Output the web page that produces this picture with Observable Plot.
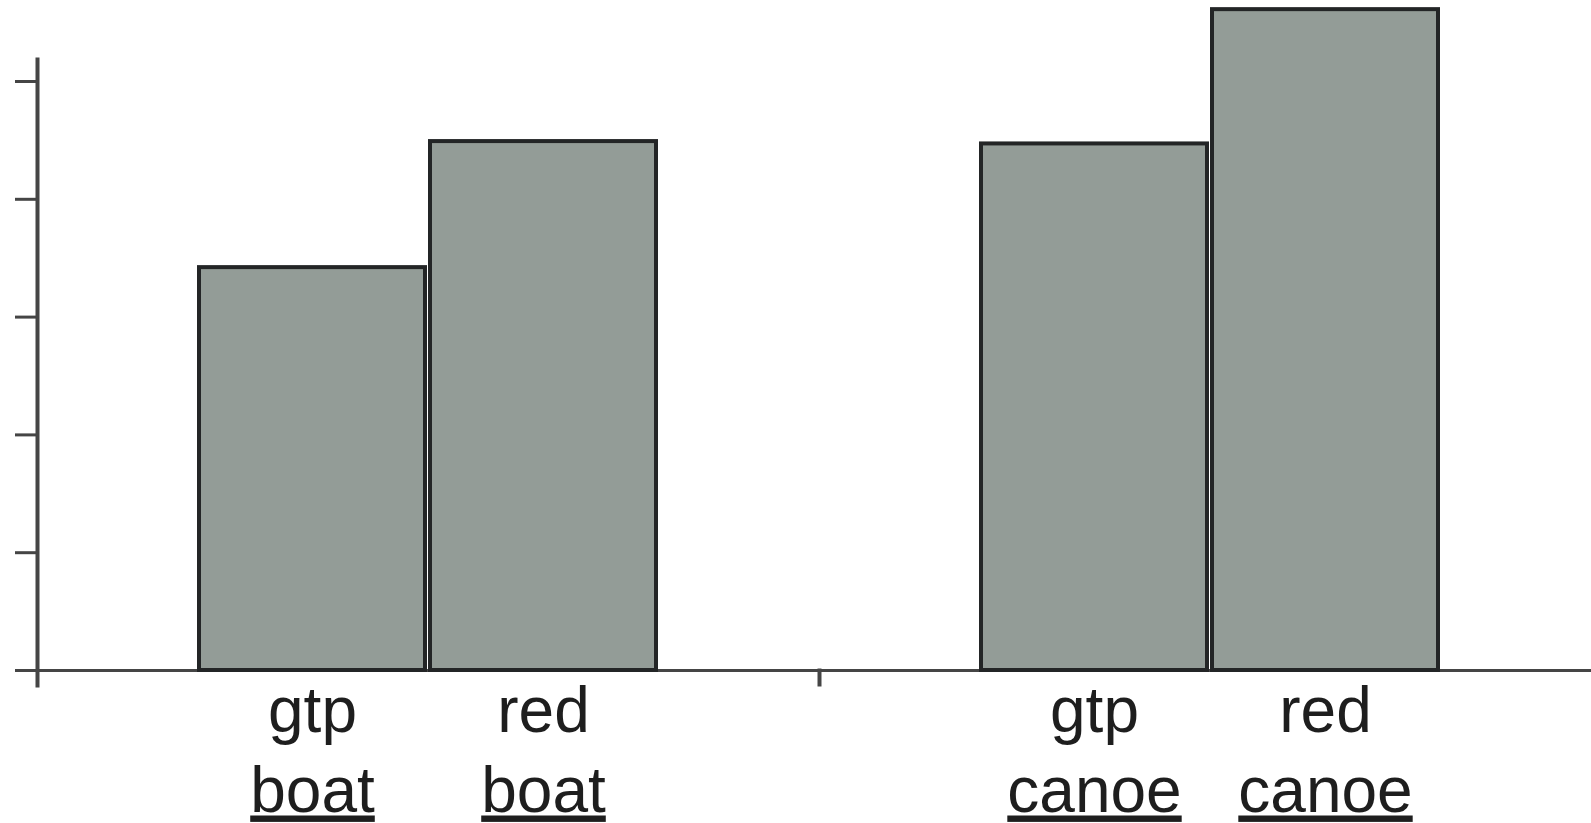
<!DOCTYPE html>
<html>
<head>
<meta charset="utf-8">
<script src="https://cdn.jsdelivr.net/npm/d3@7"></script>
<script src="https://cdn.jsdelivr.net/npm/@observablehq/plot@0.6"></script>
<style>
  html, body { margin: 0; padding: 0; background: #ffffff; }
  #chart { width: 1591px; height: 823px; overflow: hidden; }
</style>
</head>
<body>
<div id="chart"></div>
<script>
// Groups (subject noun) and conditions within each group
const groups = ["boat", "canoe"];
const conditions = ["gtp", "red"];
// Bar heights in axis units, order: gtp boat, red boat, gtp canoe, red canoe
const values = [3.42, 4.49, 4.47, 5.61];
// Unlabelled y-axis ticks
const yTicks = [0, 1, 2, 3, 4, 5];

const data = groups.flatMap((g, i) =>
  conditions.map((c, j) => ({group: g, cond: c, value: values[i * conditions.length + j]}))
);

const axisColor = "#454545";
const font = "'Liberation Sans', Arial, sans-serif";

const chart = Plot.plot({
  width: 1591,
  height: 823,
  marginLeft: 37,
  marginRight: -10,
  marginTop: 81,
  marginBottom: 153,
  style: {background: "#ffffff", fontFamily: font},
  fx: {domain: groups, padding: 0, axis: null},
  x: {domain: conditions, paddingInner: 0.02, paddingOuter: 0.7, axis: null},
  y: {domain: [0, 5], axis: null},
  marks: [
    Plot.axisY({ticks: yTicks, tickSize: 22, tickFormat: () => "", label: null, stroke: axisColor, strokeWidth: 3}),
    Plot.ruleY([0], {stroke: axisColor, strokeWidth: 3}),
    Plot.frame({anchor: "left", fx: "boat", insetTop: -22, insetBottom: -15, stroke: axisColor, strokeWidth: 4}),
    Plot.frame({anchor: "left", fx: "canoe", insetTop: 589, insetBottom: -14, stroke: axisColor, strokeWidth: 4}),
    Plot.barY(data, {fx: "group", x: "cond", y: "value", fill: "#939c97", stroke: "#232526", strokeWidth: 4}),
    Plot.text(data, {fx: "group", x: "cond", text: "cond", frameAnchor: "bottom", lineAnchor: "bottom",
      dy: 61, fontSize: 64, fill: "#1e1e1e", fontFamily: font}),
    Plot.text(data, {fx: "group", x: "cond", text: "group", frameAnchor: "bottom", lineAnchor: "bottom",
      dy: 141, fontSize: 64, fill: "#1e1e1e", fontFamily: font})
  ]
});

d3.select(chart).selectAll("text")
  .filter(function() { return groups.includes(this.textContent); })
  .style("text-decoration", "underline")
  .attr("text-decoration", "underline");
document.getElementById("chart").appendChild(chart);
</script>
</body>
</html>
